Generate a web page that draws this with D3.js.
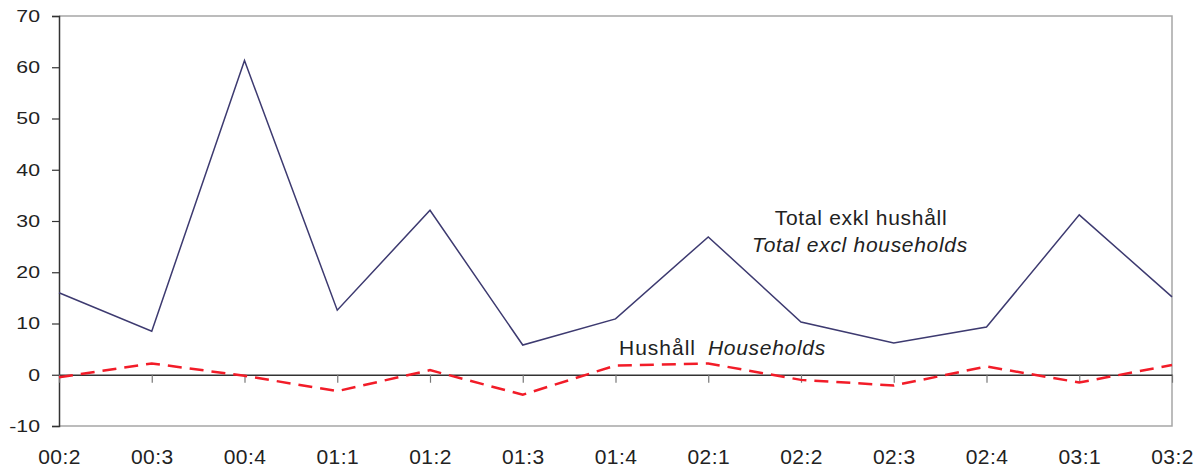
<!DOCTYPE html>
<html>
<head>
<meta charset="utf-8">
<script src="https://cdn.jsdelivr.net/npm/d3@7"></script>
<style>
  html, body { margin: 0; padding: 0; background: #fff; }
  svg { display: block; font-family: "Liberation Sans", Arial, sans-serif; }
</style>
</head>
<body>
<svg id="chart" width="1199" height="470"></svg>
<script>
const categories = ["00:2","00:3","00:4","01:1","01:2","01:3","01:4","02:1","02:2","02:3","02:4","03:1","03:2"];
const totalExclHouseholds = [16.0, 8.5, 61.3, 12.6, 32.1, 5.8, 10.9, 26.9, 10.3, 6.2, 9.3, 31.2, 15.2];
const households = [-0.5, 2.2, -0.2, -3.2, 0.9, -3.9, 1.8, 2.2, -1.0, -2.1, 1.6, -1.5, 1.9];
const yTicks = [-10, 0, 10, 20, 30, 40, 50, 60, 70];

(function () {
const svg = d3.select("#chart");
const mLeft = 59, mRight = 1172, mTop = 16, mBottom = 426;

const x = d3.scalePoint().domain(categories).range([mLeft, mRight]);
const y = d3.scaleLinear().domain([-10, 70]).range([mBottom, mTop]);

// frame (top, right, bottom) in gray
svg.append("path")
  .attr("d", `M${mLeft},${mTop}H${mRight}V${mBottom}H${mLeft}`)
  .attr("fill", "none").attr("stroke", "#a6a6a6").attr("stroke-width", 1.5);

// y axis
const yAxis = d3.axisLeft(y).tickValues(yTicks).tickSize(7).tickPadding(12)
  .tickFormat(d => String(d));
const gy = svg.append("g").attr("transform", `translate(${mLeft},0)`).call(yAxis);
gy.select(".domain").attr("stroke", "#333").attr("stroke-width", 1.5);
gy.selectAll(".tick line").attr("stroke", "#333").attr("stroke-width", 1.2);
gy.selectAll(".tick text")
  .attr("fill", "#222").attr("font-size", 17)
  .attr("font-family", "Liberation Sans, Arial, sans-serif")
  .each(function() {
    const t = d3.select(this);
    const xx = +t.attr("x");
    t.attr("x", null).attr("transform", `translate(${xx},0) scale(1.25,1)`);
  });

// x axis at zero
const xAxis = d3.axisBottom(x).tickSize(8).tickSizeOuter(0);
const gx = svg.append("g").attr("transform", `translate(0,${y(0)})`).call(xAxis);
gx.select(".domain").attr("stroke", "#333").attr("stroke-width", 1.5);
gx.selectAll(".tick line").attr("stroke", "#777").attr("stroke-width", 1.2);
gx.selectAll(".tick text")
  .attr("fill", "#222").attr("font-size", 21)
  .attr("letter-spacing", 0.4)
  .attr("font-family", "Liberation Sans, Arial, sans-serif")
  .attr("y", null).attr("dy", null)
  .attr("transform", `translate(0,${464 - y(0)})`);

// lines
const line = d3.line().x((d, i) => x(categories[i])).y(d => y(d));

svg.append("path")
  .datum(totalExclHouseholds)
  .attr("d", line)
  .attr("fill", "none").attr("stroke", "#3d3a70").attr("stroke-width", 1.5);

svg.append("path")
  .datum(households)
  .attr("d", line)
  .attr("fill", "none").attr("stroke", "#f21c28").attr("stroke-width", 2.5)
  .attr("stroke-dasharray", "14,8");

// annotations
const ann = svg.append("g").attr("fill", "#222").attr("font-size", 21).attr("letter-spacing", 0.7);
ann.append("text").attr("x", 861).attr("y", 225).attr("text-anchor", "middle")
  .text("Total exkl hushåll");
ann.append("text").attr("x", 860).attr("y", 252).attr("text-anchor", "middle")
  .attr("font-style", "italic").text("Total excl households");
const h = ann.append("text").attr("x", 619).attr("y", 355);
h.append("tspan").attr("letter-spacing", 1).text("Hushåll");
h.append("tspan").attr("x", 708).attr("font-style", "italic").text("Households");
})();
</script>
</body>
</html>
